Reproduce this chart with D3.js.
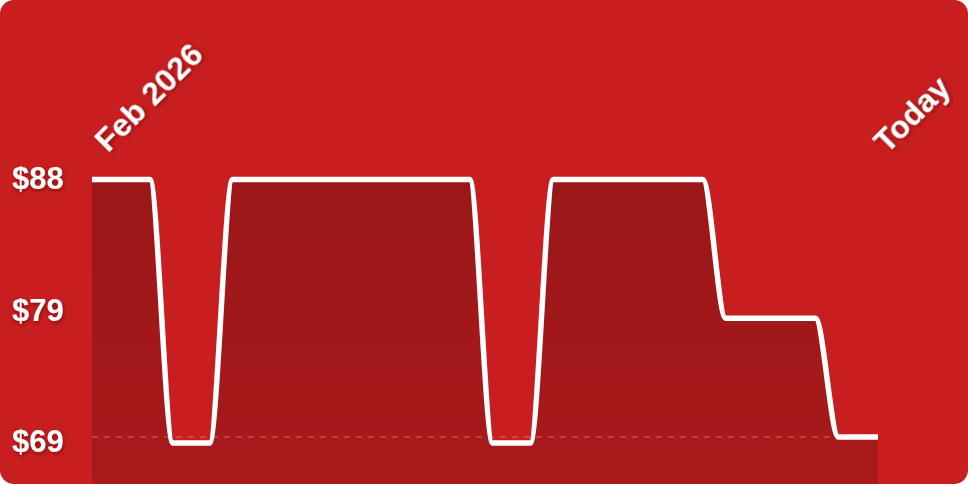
<!DOCTYPE html>
<html>
<head>
<meta charset="utf-8">
<script src="https://cdn.jsdelivr.net/npm/d3@7"></script>
<style>
  html, body { margin: 0; padding: 0; background: #fff; }
  #card {
    width: 968px;
    height: 484px;
    background: #c91e1f;
    border-radius: 14px;
    overflow: hidden;
  }
  svg { display: block; }
  text { font-family: "Liberation Sans", Arial, Helvetica, sans-serif; font-weight: bold; fill: #fff; }
</style>
</head>
<body>
<div id="card"><svg id="chart" width="968" height="484"></svg></div>
<script>
// price history (time of each recorded price)
const dates = [
  '2026-02-01T00:00', '2026-02-03T12:00', '2026-02-04T12:00', '2026-02-06T02:00',
  '2026-02-07T02:00', '2026-02-17T08:00', '2026-02-18T08:00', '2026-02-19T23:00',
  '2026-02-20T23:00', '2026-02-27T10:00', '2026-02-28T10:00', '2026-03-04T07:00',
  '2026-03-05T07:00', '2026-03-07T00:00'
]
const prices = [88, 88, 69, 69, 88, 88, 69, 69, 88, 88, 78, 78, 69.43, 69.43]
const startLabel = 'Feb 2026'
const endLabel = 'Today'

const width = 968
const height = 484
const margin = { top: 179.5, right: 90, bottom: 41, left: 92 }

const parse = d3.timeParse('%Y-%m-%dT%H:%M')
const data = dates.map((d, i) => ({ date: parse(d), price: prices[i] }))

const svg = d3.select('#chart')

const defs = svg.append('defs')
const grad = defs.append('linearGradient')
  .attr('id', 'areaGrad')
  .attr('x1', 0).attr('y1', 0).attr('x2', 0).attr('y2', 1)
grad.append('stop').attr('offset', '0%').attr('stop-color', '#000').attr('stop-opacity', 0.23)
grad.append('stop').attr('offset', '100%').attr('stop-color', '#000').attr('stop-opacity', 0.16)

const shadow = defs.append('filter')
  .attr('id', 'txtShadow')
  .attr('x', '-20%').attr('y', '-40%').attr('width', '140%').attr('height', '180%')
shadow.append('feDropShadow')
  .attr('dx', 1).attr('dy', 2).attr('stdDeviation', 2)
  .attr('flood-color', '#5a0000').attr('flood-opacity', 0.55)

const x = d3.scaleTime()
  .domain(d3.extent(data, d => d.date))
  .range([margin.left, width - margin.right])

const minP = d3.min(prices)
const maxP = d3.max(prices)
const y = d3.scaleLinear()
  .domain([minP, maxP])
  .range([height - margin.bottom, margin.top])

// area under the line
const area = d3.area()
  .curve(d3.curveMonotoneX)
  .x(d => x(d.date))
  .y0(height)
  .y1(d => y(d.price))

svg.append('path')
  .datum(data)
  .attr('d', area)
  .attr('fill', 'url(#areaGrad)')

// current price reference
const current = prices[prices.length - 1]
svg.append('line')
  .attr('x1', x.range()[0])
  .attr('x2', x.range()[1])
  .attr('y1', y(current))
  .attr('y2', y(current))
  .attr('stroke', '#fff')
  .attr('stroke-opacity', 0.18)
  .attr('stroke-width', 2)
  .attr('stroke-dasharray', '6,6')

const line = d3.line()
  .curve(d3.curveMonotoneX)
  .x(d => x(d.date))
  .y(d => y(d.price))

svg.append('path')
  .datum(data)
  .attr('d', line)
  .attr('fill', 'none')
  .attr('stroke', '#fff')
  .attr('stroke-width', 5.5)
  .attr('stroke-linejoin', 'round')

// price labels: max, middle, min
const ticks = [maxP, (maxP + minP) / 2, minP]
svg.append('g')
  .selectAll('text')
  .data(ticks)
  .enter()
  .append('text')
  .attr('x', 12)
  .attr('y', d => y(d))
  .attr('dy', '0.3em')
  .attr('filter', 'url(#txtShadow)')
  .style('font-size', '31px')
  .text(d => '$' + Math.round(d))

// rotated date labels
const xEnds = x.domain()
svg.append('text')
  .attr('transform', `translate(${x(xEnds[0]) + 16},${margin.top - 26}) rotate(-45)`)
  .attr('filter', 'url(#txtShadow)')
  .style('font-size', '32px')
  .text(startLabel)

svg.append('text')
  .attr('transform', `translate(${x(xEnds[1]) + 9},${margin.top - 25}) rotate(-45)`)
  .attr('filter', 'url(#txtShadow)')
  .style('font-size', '32px')
  .text(endLabel)
</script>
</body>
</html>
